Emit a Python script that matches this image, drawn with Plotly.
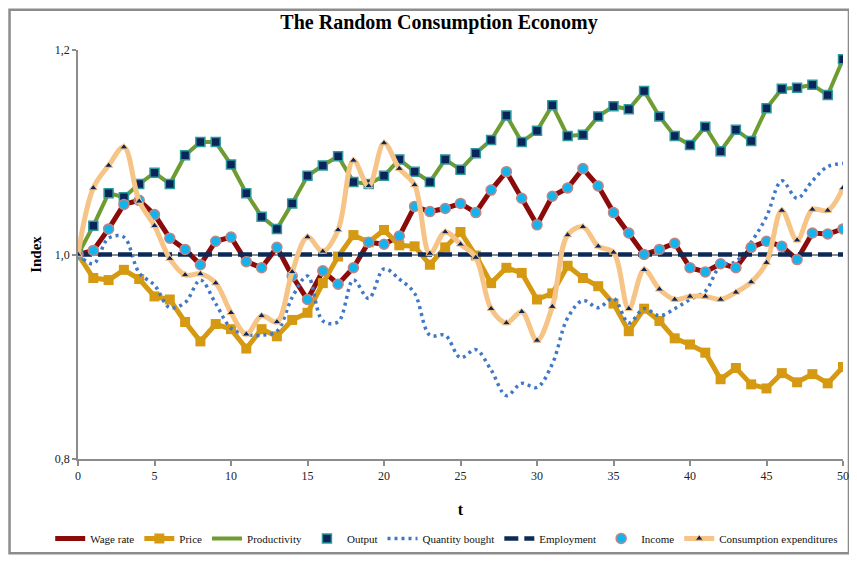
import plotly.graph_objects as go

t = list(range(51))

wage_rate = [1.000, 1.004, 1.025, 1.049, 1.053, 1.039, 1.016, 1.005, 0.990, 1.013, 1.017,
             0.993, 0.987, 1.007, 0.979, 0.956, 0.984, 0.971, 0.987, 1.012, 1.010,
             1.018, 1.047, 1.042, 1.045, 1.050, 1.041, 1.063, 1.081, 1.055, 1.029,
             1.057, 1.065, 1.084, 1.067, 1.041, 1.021, 1.000, 1.005, 1.011, 0.987,
             0.983, 0.991, 0.987, 1.007, 1.013, 1.008, 0.995, 1.021, 1.020, 1.025]

price = [1.000, 0.977, 0.975, 0.985, 0.976, 0.959, 0.956, 0.934, 0.915, 0.932, 0.927,
         0.908, 0.927, 0.920, 0.936, 0.943, 0.972, 0.998, 1.019, 1.012, 1.024,
         1.009, 1.008, 0.990, 1.007, 1.022, 0.999, 0.972, 0.987, 0.982, 0.956,
         0.962, 0.989, 0.977, 0.969, 0.952, 0.925, 0.947, 0.935, 0.918, 0.912,
         0.904, 0.878, 0.889, 0.873, 0.869, 0.884, 0.875, 0.883, 0.874, 0.890]

productivity = [1.000, 1.028, 1.060, 1.056, 1.069, 1.080, 1.069, 1.097, 1.110, 1.110, 1.088,
                1.060, 1.037, 1.025, 1.050, 1.077, 1.087, 1.096, 1.071, 1.069, 1.077,
                1.093, 1.081, 1.071, 1.093, 1.083, 1.099, 1.112, 1.136, 1.110, 1.121,
                1.146, 1.116, 1.117, 1.135, 1.145, 1.142, 1.160, 1.135, 1.116, 1.107,
                1.125, 1.101, 1.122, 1.111, 1.143, 1.162, 1.163, 1.166, 1.156, 1.191]

output = [1.000, 1.028, 1.060, 1.056, 1.069, 1.080, 1.069, 1.097, 1.110, 1.110, 1.088,
          1.060, 1.037, 1.025, 1.050, 1.077, 1.087, 1.096, 1.071, 1.069, 1.077,
          1.093, 1.081, 1.071, 1.093, 1.083, 1.099, 1.112, 1.136, 1.110, 1.121,
          1.146, 1.116, 1.117, 1.135, 1.145, 1.142, 1.160, 1.135, 1.116, 1.107,
          1.125, 1.101, 1.122, 1.111, 1.143, 1.162, 1.163, 1.166, 1.156, 1.191]

quantity_bought = [1.000, 0.991, 1.016, 1.017, 0.982, 0.970, 0.948, 0.953, 0.975, 0.952, 0.928,
                   0.922, 0.921, 0.925, 0.958, 0.979, 0.935, 0.934, 0.975, 0.957, 0.986,
                   0.976, 0.962, 0.921, 0.921, 0.899, 0.907, 0.887, 0.862, 0.874, 0.870,
                   0.893, 0.938, 0.955, 0.948, 0.957, 0.933, 0.947, 0.940, 0.947, 0.956,
                   0.964, 0.989, 0.993, 1.012, 1.037, 1.072, 1.055, 1.072, 1.086, 1.089]

employment = [1.0] * 51

income = [1.000, 1.004, 1.025, 1.049, 1.053, 1.039, 1.016, 1.005, 0.990, 1.013, 1.017,
          0.993, 0.987, 1.007, 0.979, 0.956, 0.984, 0.971, 0.987, 1.012, 1.010,
          1.018, 1.047, 1.042, 1.045, 1.050, 1.041, 1.063, 1.081, 1.055, 1.029,
          1.057, 1.065, 1.084, 1.067, 1.041, 1.021, 1.000, 1.005, 1.011, 0.987,
          0.983, 0.991, 0.987, 1.007, 1.013, 1.008, 0.995, 1.021, 1.020, 1.025]

consumption = [1.000, 1.065, 1.087, 1.105, 1.052, 1.028, 0.996, 0.980, 0.981, 0.972, 0.943,
               0.922, 0.940, 0.934, 0.983, 1.017, 1.003, 1.024, 1.092, 1.067, 1.109,
               1.084, 1.068, 1.001, 1.022, 1.010, 0.997, 0.947, 0.933, 0.944, 0.916,
               0.949, 1.019, 1.027, 1.008, 1.002, 0.947, 0.985, 0.966, 0.956, 0.959,
               0.959, 0.956, 0.963, 0.973, 0.992, 1.043, 1.014, 1.044, 1.043, 1.065]

y_ticks = [0.8, 1.0, 1.2]
x_ticks = list(range(0, 51, 5))

SERIF = "Liberation Serif, Times New Roman, serif"
NAVY = "#0D2A57"

fig = go.Figure()

fig.add_trace(go.Scatter(x=t, y=wage_rate, name="Wage rate", mode="lines",
                         line=dict(color="#8B0A0A", width=5)))
fig.add_trace(go.Scatter(x=t, y=price, name="Price", mode="lines+markers",
                         line=dict(color="#D69A12", width=5),
                         marker=dict(symbol="square", size=10, color="#D69A12")))
fig.add_trace(go.Scatter(x=t, y=productivity, name="Productivity", mode="lines",
                         line=dict(color="#6F9C30", width=4)))
fig.add_trace(go.Scatter(x=t, y=output, name="Output", mode="markers",
                         marker=dict(symbol="square", size=9, color="#0B2459",
                                     line=dict(color="#2E9A9C", width=1.5))))
fig.add_trace(go.Scatter(x=t, y=quantity_bought, name="Quantity bought", mode="lines",
                         line=dict(color="#3F78C6", width=3.5, dash="3px,4px",
                                   shape="spline", smoothing=1)))
fig.add_trace(go.Scatter(x=t, y=employment, name="Employment", mode="lines",
                         line=dict(color=NAVY, width=4.5, dash="14px,6px")))
fig.add_trace(go.Scatter(x=t, y=income, name="Income", mode="markers",
                         marker=dict(symbol="circle", size=10, color="#12B4EE",
                                     line=dict(color="#C08585", width=1.5))))
fig.add_trace(go.Scatter(x=t, y=consumption, name="Consumption expenditures",
                         mode="lines+markers",
                         line=dict(color="#F6C487", width=5, shape="spline", smoothing=1),
                         marker=dict(symbol="triangle-up", size=7, color="#0B2459",
                                     line=dict(color="#F6C487", width=1))))

# The page body adds an 8px offset, so the figure is sized to the window minus that.
W, H = 849, 553
L, R, T, B = 70, 841, 42, 454   # plot area in figure pixels
def px_x(p):
    return (p - L) / (R - L)
def px_y(p):
    return (B - p) / (B - T)

fig.add_shape(type="rect", xref="paper", yref="paper",
              x0=px_x(1), x1=px_x(847), y0=px_y(549), y1=px_y(1.5),
              line=dict(color="#8C8C8C", width=2.5), fillcolor="rgba(0,0,0,0)",
              layer="below")

fig.update_layout(
    width=W, height=H,
    margin=dict(l=L, r=W - R, t=T, b=H - B),
    paper_bgcolor="white", plot_bgcolor="white",
    separators=",.",
    title=dict(text="<b>The Random Consumption Economy</b>",
               font=dict(family=SERIF, size=20, color="#000000"),
               x=431 / W, xref="container", xanchor="center",
               y=1 - 14 / H, yref="container", yanchor="middle"),
    font=dict(family=SERIF, size=12, color="#222222"),
    showlegend=True,
    legend=dict(orientation="h", x=px_x(42), xanchor="left",
                y=px_y(534), yanchor="middle",
                font=dict(family=SERIF, size=11, color="#111111"),
                itemwidth=30, bgcolor="rgba(0,0,0,0)", tracegroupgap=0),
    xaxis=dict(range=[0, 50], tickvals=x_ticks, ticktext=[str(v) for v in x_ticks],
               showgrid=False, zeroline=False, showline=True, linecolor="#8C8C8C",
               linewidth=1.5, ticks="outside", ticklen=5, tickcolor="#8C8C8C",
               tickwidth=1.5,
               tickfont=dict(family=SERIF, size=12, color="#222222"),
               title=dict(text="<b>t</b>", font=dict(family=SERIF, size=16, color="#000000"),
                          standoff=22)),
    yaxis=dict(range=[0.8, 1.2], tickvals=y_ticks, tickformat=".1f",
               showgrid=True, gridcolor="#8C8C8C", gridwidth=1.5,
               zeroline=False, showline=True, linecolor="#8C8C8C", linewidth=1.5,
               ticks="outside", ticklen=4, tickcolor="#8C8C8C", tickwidth=1.5,
               tickfont=dict(family=SERIF, size=12, color="#222222"),
               title=dict(text="<b>Index</b>", font=dict(family=SERIF, size=15, color="#000000"),
                          standoff=10)),
)

fig.write_html("out.html")
